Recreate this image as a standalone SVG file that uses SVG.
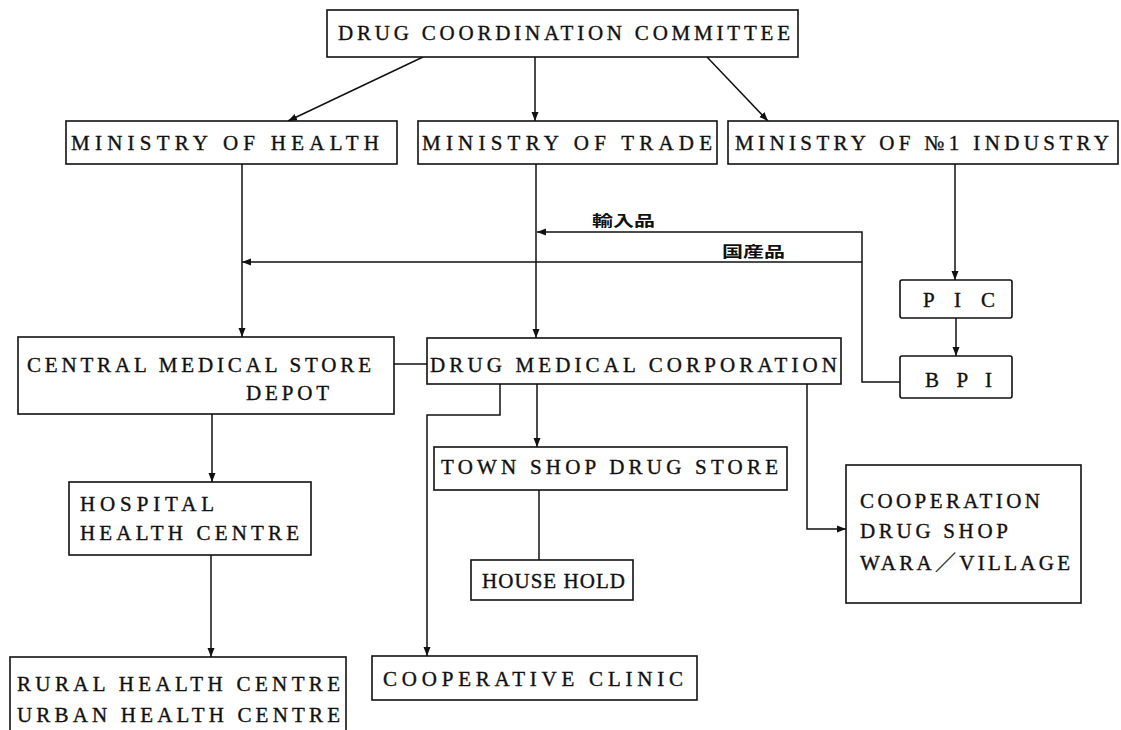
<svg xmlns="http://www.w3.org/2000/svg" width="1121" height="730" viewBox="0 0 1121 730">
<defs>
<style>
.box{fill:#fff;stroke:#111;stroke-width:1.6}
.t{font-family:"Liberation Serif","Noto Sans CJK JP",serif;font-size:21px;fill:#111;stroke:#111;stroke-width:0.35}
.j{font-family:"Noto Sans CJK JP",sans-serif;font-size:15px;fill:#111;font-weight:bold}
.c{fill:none;stroke:#111;stroke-width:1.5}
</style>
<marker id="ah" markerWidth="10" markerHeight="8" refX="9" refY="4" orient="auto" markerUnits="userSpaceOnUse">
<path d="M0,0.5 L9,4 L0,7.5 Z" fill="#111"/>
</marker>
</defs>
<rect width="1121" height="730" fill="#fff"/>
<g id="connectors">
<path class="c" d="M423,57 L288,121" marker-end="url(#ah)"/>
<path class="c" d="M535,57 L535,121" marker-end="url(#ah)"/>
<path class="c" d="M707,57 L768,121" marker-end="url(#ah)"/>
<path class="c" d="M242,164 L242,337" marker-end="url(#ah)"/>
<path class="c" d="M536,164 L536,338" marker-end="url(#ah)"/>
<path class="c" d="M955,164 L955,280" marker-end="url(#ah)"/>
<path class="c" d="M956,318 L956,356" marker-end="url(#ah)"/>
<path class="c" d="M900,382 L862,382 L862,232 L537,232" marker-end="url(#ah)"/>
<path class="c" d="M862,262 L242,262" marker-end="url(#ah)"/>
<path class="c" d="M394,364 L427,364"/>
<path class="c" d="M212,414 L212,482" marker-end="url(#ah)"/>
<path class="c" d="M500,384 L500,415 L427,415 L427,656" marker-end="url(#ah)"/>
<path class="c" d="M537,384 L537,447" marker-end="url(#ah)"/>
<path class="c" d="M539,490 L539,560"/>
<path class="c" d="M807,384 L807,529 L846,529" marker-end="url(#ah)"/>
<path class="c" d="M211,555 L211,657" marker-end="url(#ah)"/>
<text class="j" x="592" y="226" textLength="63" lengthAdjust="spacingAndGlyphs">輸入品</text>
<text class="j" x="722" y="257" textLength="63" lengthAdjust="spacingAndGlyphs">国産品</text>
</g>
<g id="dcc">
<rect class="box" x="327" y="10" width="471" height="47"/>
<text class="t" x="338" y="40" textLength="452" lengthAdjust="spacing">DRUG COORDINATION COMMITTEE</text>
</g>
<g id="moh">
<rect class="box" x="66" y="121" width="331" height="43"/>
<text class="t" x="71" y="150" textLength="308" lengthAdjust="spacing">MINISTRY OF HEALTH</text>
</g>
<g id="mot">
<rect class="box" x="418" y="121" width="299" height="43"/>
<text class="t" x="422" y="150" textLength="290" lengthAdjust="spacing">MINISTRY OF TRADE</text>
</g>
<g id="moi">
<rect class="box" x="728" y="121" width="390" height="43"/>
<text class="t" x="735" y="150" textLength="374" lengthAdjust="spacing">MINISTRY OF №1 INDUSTRY</text>
</g>
<g id="pic">
<rect class="box" x="900" y="280" width="112" height="38" rx="2"/>
<text class="t" x="923" y="307" textLength="72" lengthAdjust="spacing">P I C</text>
</g>
<g id="bpi">
<rect class="box" x="900" y="356" width="112" height="42" rx="2"/>
<text class="t" x="925" y="387" textLength="67" lengthAdjust="spacing">B P I</text>
</g>
<g id="cms">
<rect class="box" x="18" y="337" width="376" height="77"/>
<text class="t" x="27" y="372" textLength="344" lengthAdjust="spacing">CENTRAL MEDICAL STORE</text>
<text class="t" x="246" y="400" textLength="83" lengthAdjust="spacing">DEPOT</text>
</g>
<g id="dmc">
<rect class="box" x="427" y="338" width="414" height="46"/>
<text class="t" x="430" y="372" textLength="407" lengthAdjust="spacing">DRUG MEDICAL CORPORATION</text>
</g>
<g id="hospital">
<rect class="box" x="69" y="482" width="242" height="73"/>
<text class="t" x="80" y="511" textLength="134" lengthAdjust="spacing">HOSPITAL</text>
<text class="t" x="80" y="540" textLength="219" lengthAdjust="spacing">HEALTH CENTRE</text>
</g>
<g id="townshop">
<rect class="box" x="434" y="447" width="353" height="43"/>
<text class="t" x="441" y="474" textLength="337" lengthAdjust="spacing">TOWN SHOP DRUG STORE</text>
</g>
<g id="household">
<rect class="box" x="471" y="560" width="162" height="40"/>
<text class="t" x="482" y="588" textLength="143" lengthAdjust="spacing">HOUSE HOLD</text>
</g>
<g id="cooperation">
<rect class="box" x="846" y="465" width="235" height="138"/>
<text class="t" x="860" y="508" textLength="180" lengthAdjust="spacing">COOPERATION</text>
<text class="t" x="860" y="538" textLength="148" lengthAdjust="spacing">DRUG SHOP</text>
<text class="t" x="860" y="570" textLength="210" lengthAdjust="spacing">WARA／VILLAGE</text>
</g>
<g id="coopclinic">
<rect class="box" x="372" y="656" width="325" height="44"/>
<text class="t" x="383" y="686" textLength="300" lengthAdjust="spacing">COOPERATIVE CLINIC</text>
</g>
<g id="rural">
<rect class="box" x="10" y="657" width="336" height="90"/>
<text class="t" x="17" y="691" textLength="323" lengthAdjust="spacing">RURAL HEALTH CENTRE</text>
<text class="t" x="17" y="722" textLength="323" lengthAdjust="spacing">URBAN HEALTH CENTRE</text>
</g>
</svg>
